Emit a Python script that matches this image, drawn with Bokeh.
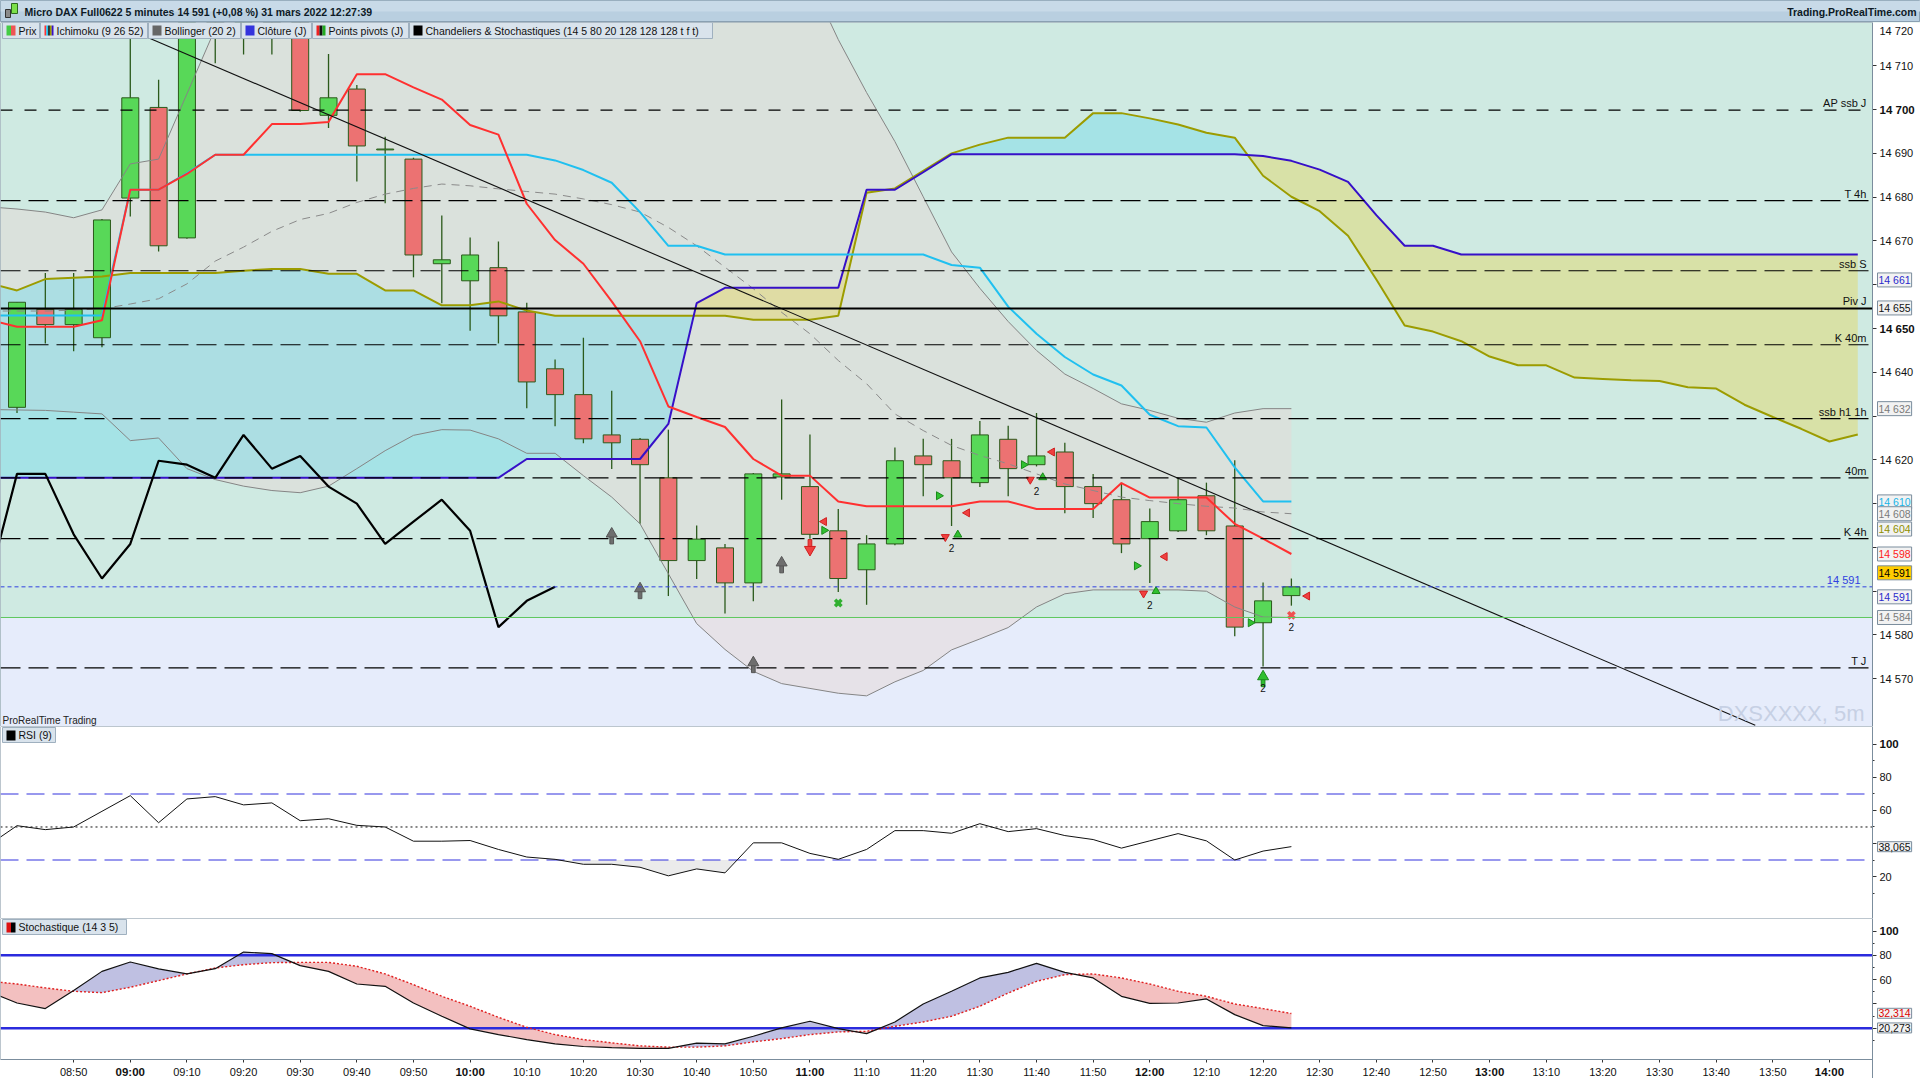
import numpy as np
from bokeh.plotting import figure
from bokeh.models import Range1d, FixedTicker, Label, BoxAnnotation, ColumnDataSource, LinearAxis
from bokeh.layouts import column
from bokeh.embed import file_html
from bokeh.resources import INLINE
from bokeh.core.properties import value

FONT = "Liberation Sans"

# ---------------- texts ----------------
TITLE = "Micro DAX Full0622 5 minutes 14 591 (+0,08 %) 31 mars 2022 12:27:39"
SITE = "Trading.ProRealTime.com"
LEGEND_ITEMS = ["Prix", "Ichimoku (9 26 52)", "Bollinger (20 2)", "Clôture (J)",
                "Points pivots (J)", "Chandeliers & Stochastiques (14 5 80 20 128 128 128 t f t)"]
RSI_TITLE = "RSI (9)"
STO_TITLE = "Stochastique (14 3 5)"
WATERMARK = "DXSXXXX, 5m"
BRAND = "ProRealTime Trading"

# ---------------- candles (5 min) ----------------
TIMES = ["08:40", "08:45", "08:50", "08:55", "09:00", "09:05", "09:10", "09:15", "09:20", "09:25",
         "09:30", "09:35", "09:40", "09:45", "09:50", "09:55", "10:00", "10:05", "10:10", "10:15",
         "10:20", "10:25", "10:30", "10:35", "10:40", "10:45", "10:50", "10:55", "11:00", "11:05",
         "11:10", "11:15", "11:20", "11:25", "11:30", "11:35", "11:40", "11:45", "11:50", "11:55",
         "12:00", "12:05", "12:10", "12:15", "12:20", "12:25"]
OPEN = [14632.0, 14654.4, 14650.9, 14647.9, 14679.8, 14700.5, 14670.7, 14728.0, 14724.0, 14730.0,
        14727.0, 14698.7, 14704.7, 14690.8, 14688.7, 14664.8, 14660.9, 14663.9, 14653.8, 14640.8,
        14634.9, 14625.7, 14624.7, 14615.9, 14597.0, 14599.9, 14591.9, 14616.1, 14613.9, 14603.8,
        14594.9, 14600.8, 14620.9, 14619.8, 14614.8, 14624.7, 14618.9, 14621.8, 14613.9, 14610.9,
        14602.0, 14603.8, 14611.8, 14604.9, 14582.8, 14589.0]
HIGH = [14656.0, 14662.7, 14662.7, 14675.0, 14725.0, 14706.8, 14732.0, 14736.0, 14738.0, 14735.0,
        14730.0, 14712.7, 14705.6, 14693.8, 14689.0, 14675.8, 14670.8, 14669.9, 14655.9, 14642.9,
        14647.9, 14635.8, 14625.0, 14626.9, 14605.0, 14600.8, 14617.0, 14633.8, 14625.8, 14608.8,
        14602.8, 14622.8, 14624.8, 14624.8, 14628.9, 14627.8, 14630.7, 14623.9, 14616.8, 14614.8,
        14608.9, 14615.9, 14614.8, 14619.9, 14592.0, 14592.9]
LOW = [14630.7, 14646.6, 14644.8, 14645.7, 14675.6, 14667.6, 14670.5, 14710.6, 14712.6, 14712.6,
       14699.5, 14695.8, 14683.6, 14678.6, 14661.7, 14655.8, 14649.5, 14646.6, 14631.8, 14627.7,
       14623.8, 14617.9, 14605.4, 14588.9, 14592.8, 14584.9, 14587.7, 14610.9, 14602.0, 14589.8,
       14586.9, 14600.5, 14611.7, 14604.9, 14613.8, 14611.7, 14618.5, 14607.8, 14606.7, 14598.7,
       14591.9, 14603.5, 14602.8, 14579.7, 14572.8, 14586.7]
CLOSE = [14656.0, 14650.9, 14654.4, 14674.8, 14702.7, 14668.9, 14728.0, 14725.0, 14730.0, 14726.0,
         14699.8, 14702.7, 14691.7, 14691.0, 14666.8, 14665.7, 14666.8, 14652.9, 14637.8, 14634.9,
         14624.8, 14623.9, 14618.9, 14597.0, 14601.9, 14591.9, 14616.8, 14616.8, 14603.0, 14592.9,
         14600.8, 14619.8, 14618.9, 14615.9, 14625.7, 14618.0, 14620.9, 14613.9, 14610.0, 14600.8,
         14605.9, 14610.9, 14603.8, 14581.8, 14587.8, 14591.0]

# indicators start one bar before the first visible candle
IND_START = -1
TENKAN = [14652.0, 14650.4, 14650.4, 14650.4, 14651.9, 14681.7, 14681.7, 14685.3, 14689.7, 14689.7,
          14696.7, 14696.7, 14697.2, 14708.1, 14708.1, 14705.1, 14702.3, 14696.5, 14694.3, 14678.5,
          14670.2, 14664.8, 14656.2, 14647.1, 14632.2, 14629.8, 14627.5, 14620.2, 14616.4, 14616.4,
          14610.5, 14609.4, 14609.4, 14609.4, 14609.4, 14610.5, 14610.5, 14608.8, 14608.8, 14608.8,
          14614.7, 14611.4, 14611.4, 14611.4, 14605.4, 14602.0, 14598.5]
KIJUN = [14653.0, 14653.0, 14653.0, 14653.0, 14653.0, 14681.7, 14681.7, 14685.5, 14689.7, 14689.7,
         14689.7, 14689.7, 14689.7, 14689.7, 14689.7, 14689.7, 14689.7, 14689.7, 14689.7, 14689.7,
         14688.4, 14686.2, 14683.3, 14676.6, 14668.9, 14668.9, 14666.9, 14666.9, 14666.9, 14666.9,
         14666.9, 14666.9, 14666.9, 14666.9, 14664.5, 14663.9, 14655.0, 14648.8, 14643.5, 14639.5,
         14637.0, 14630.3, 14627.7, 14627.4, 14618.3, 14610.5, 14610.5]
SENKOU_A = [14660.4, 14658.7, 14661.3, 14661.6, 14661.9, 14662.7, 14662.7, 14662.7, 14662.7, 14663.2,
            14663.6, 14663.6, 14662.5, 14662.5, 14658.7, 14658.7, 14655.3, 14655.3, 14656.2, 14654.1,
            14652.9, 14652.9, 14652.9, 14652.9, 14652.9, 14652.9, 14652.9, 14652.0, 14652.0, 14652.0,
            14652.9, 14681.0, 14682.0, 14686.0, 14690.0, 14692.0, 14693.6, 14693.6, 14693.6, 14699.2,
            14699.2, 14698.0, 14696.6, 14694.7, 14693.6, 14684.9, 14680.1, 14676.8, 14671.2, 14661.2,
            14650.7, 14649.3, 14647.1, 14643.6, 14641.6, 14641.6, 14638.8, 14638.5, 14638.2, 14638.0,
            14636.6, 14636.3, 14632.6, 14629.8, 14627.1, 14624.2, 14625.8]
SENKOU_B = [14615.9, 14615.9, 14615.9, 14615.9, 14615.9, 14615.9, 14615.9, 14615.9, 14615.9, 14615.9,
            14615.9, 14615.9, 14615.9, 14615.9, 14615.9, 14615.9, 14615.9, 14615.9, 14615.9, 14620.2,
            14620.2, 14620.2, 14620.2, 14620.2, 14628.2, 14655.8, 14659.3, 14659.3, 14659.3, 14659.3,
            14659.3, 14681.7, 14681.7, 14685.7, 14689.8, 14689.8, 14689.8, 14689.8, 14689.8, 14689.8,
            14689.8, 14689.8, 14689.8, 14689.8, 14689.8, 14689.4, 14688.3, 14686.3, 14683.5, 14675.9,
            14668.9, 14668.9, 14666.9, 14666.9, 14666.9, 14666.9, 14666.9, 14666.9, 14666.9, 14666.9,
            14666.9, 14666.9, 14666.9, 14666.9, 14666.9, 14666.9, 14666.9]
CHIKOU_SHIFT = 26
BB_UPPER = [14677.8, 14677.3, 14676.6, 14675.3, 14677.1, 14687.6, 14688.7, 14703.6, 14718.5, 14723.2,
            14731.4, 14737.3, 14738.6, 14739.6, 14739.3, 14738.4, 14739.1, 14738.4, 14739.0, 14741.1,
            14739.9, 14742.8, 14745.1, 14747.8, 14752.2, 14755.2, 14751.3, 14746.5, 14738.5, 14729.8,
            14716.0, 14703.9, 14692.7, 14680.1, 14667.5, 14659.2, 14651.6, 14645.0, 14639.6, 14636.3,
            14632.8, 14631.3, 14629.5, 14628.6, 14630.7, 14631.7, 14631.7]
BB_MID = [14654.0, 14654.0, 14654.0, 14654.2, 14654.5, 14655.6, 14656.8, 14660.2, 14665.4, 14668.6,
          14672.2, 14674.9, 14676.3, 14678.8, 14680.7, 14682.0, 14683.0, 14682.6, 14681.9, 14681.3,
          14680.7, 14679.6, 14678.3, 14676.6, 14673.1, 14668.9, 14664.0, 14659.1, 14653.7, 14648.8,
          14642.7, 14637.4, 14630.5, 14626.7, 14623.3, 14621.0, 14619.1, 14616.8, 14614.5, 14613.0,
          14611.5, 14610.7, 14610.0, 14609.4, 14609.0, 14608.1, 14607.7]
BB_LOWER = [14631.5, 14631.4, 14631.3, 14630.9, 14630.5, 14624.4, 14625.0, 14618.0, 14615.5, 14614.0,
            14613.0, 14612.5, 14614.0, 14618.0, 14622.1, 14625.6, 14626.9, 14626.8, 14624.8, 14621.5,
            14621.5, 14616.4, 14611.5, 14605.4, 14594.0, 14582.6, 14576.7, 14571.7, 14568.9, 14567.8,
            14566.7, 14566.1, 14569.3, 14571.9, 14576.6, 14579.1, 14581.7, 14586.4, 14589.4, 14590.3,
            14590.3, 14590.3, 14590.3, 14590.0, 14586.4, 14584.1, 14584.0]

RSI = [39.0, 50.8, 48.4, 50.0, 59.5, 69.0, 52.6, 67.0, 68.4, 63.4,
       64.6, 53.8, 55.0, 51.0, 50.0, 41.4, 41.4, 41.8, 36.4, 31.8,
       30.4, 27.4, 27.4, 25.6, 20.4, 24.6, 22.2, 40.4, 40.4, 34.0,
       30.4, 36.4, 47.8, 47.8, 46.2, 52.0, 47.2, 49.0, 44.8, 42.4,
       37.2, 41.6, 46.0, 41.6, 30.0, 35.4, 38.1]
STOCH_K = [50.3, 40.8, 36.2, 51.0, 66.8, 74.5, 68.8, 64.7, 69.0, 82.7,
           81.4, 71.5, 66.8, 56.4, 54.5, 40.8, 29.9, 19.5, 14.8, 10.7,
           7.1, 5.0, 4.0, 3.5, 3.5, 7.7, 7.1, 13.4, 20.3, 25.8,
           19.7, 15.6, 25.2, 40.0, 50.4, 61.4, 66.0, 73.4, 66.0, 61.4,
           46.3, 40.5, 40.8, 44.1, 31.2, 22.2, 20.3]
STOCH_D = [58.8, 56.4, 53.2, 50.4, 49.3, 53.7, 59.2, 64.7, 69.6, 72.3,
           74.0, 74.2, 74.2, 71.0, 64.7, 55.9, 46.3, 38.1, 29.0, 20.8,
           14.8, 10.7, 8.0, 5.5, 4.5, 4.5, 5.5, 8.8, 11.5, 14.8,
           17.0, 17.5, 21.6, 25.2, 29.9, 38.1, 49.0, 58.6, 64.1, 64.7,
           61.4, 56.4, 50.4, 46.3, 40.0, 36.2, 32.1]

# ---------------- levels ----------------
LEVEL_NAMES = ["AP ssb J", "T 4h", "ssb S", "Piv J", "K 40m", "ssb h1 1h", "40m", "K 4h", "T J"]
LEVEL_VALUES = [14699.9, 14679.2, 14663.2, 14654.6, 14646.3, 14629.4, 14615.9, 14602.0, 14572.5]
LAST_PRICE = 14591.0
LAST_PRICE_TEXT = "14 591"
ZONE_LEVEL = 14584.0
TREND_X = [4.39, 61.38]
TREND_Y = [14717.1, 14559.4]
RSI_LEVELS = [70, 30]
RSI_MID = 50
STO_LEVELS = [80, 20]

PRICE_TICKS = [14570, 14580, 14590, 14600, 14610, 14620, 14630, 14640, 14650, 14660, 14670, 14680, 14690, 14700, 14710]
PRICE_TICK_LABELS = ["14 570", "14 580", "", "", "", "14 620", "", "14 640", "", "", "14 670", "14 680", "14 690", "", "14 710"]
PRICE_BOLD_VALUES = [14700, 14650]
PRICE_BOLD_LABELS = ["14 700", "14 650"]
TOP_PRICE_LABEL = "14 720"

BOX_TEXT = ["14 661", "14 655", "14 632", "14 610", "14 608", "14 604", "14 598", "14 591", "14 591", "14 584"]
BOX_VALUE = [14661.1, 14654.7, 14631.7, 14610.4, 14607.7, 14604.2, 14598.5, 14591.0, 14591.0, 14584.0]
BOX_COLOR = ["#2a2acc", "#111111", "#7a7a7a", "#18b4e8", "#7a7a7a", "#8f8f00", "#ff2020", "#000000", "#2a2acc", "#7a7a7a"]
BOX_BG = ["#f2f2f2", "#f2f2f2", "#f2f2f2", "#f2f2f2", "#f2f2f2", "#f2f2f2", "#f2f2f2", "#ffcc00", "#f2f2f2", "#f2f2f2"]
BOX_SHIFT = [0, 0, 0, 0, 0, 0, 0, 14, -10, 0]

RSI_LAST = "38,065"
RSI_LAST_VALUE = 38.065
STO_D_LAST = "32,314"
STO_D_VALUE = 32.314
STO_K_LAST = "20,273"
STO_K_VALUE = 20.273

TICK_LABELS = ["08:50", "09:00", "09:10", "09:20", "09:30", "09:40", "09:50", "10:00", "10:10", "10:20",
               "10:30", "10:40", "10:50", "11:00", "11:10", "11:20", "11:30", "11:40", "11:50", "12:00",
               "12:10", "12:20", "12:30", "12:40", "12:50", "13:00", "13:10", "13:20", "13:30", "13:40",
               "13:50", "14:00"]

# signals of the "Chandeliers & Stochastiques" indicator
SIG_GRAY_UP_X = [21, 22, 26, 27]
SIG_GRAY_UP_Y = [14603.1, 14590.6, 14573.7, 14596.5]
SIG_RED_DOWN_X = [28]
SIG_RED_DOWN_Y = [14599.5]
SIG_PAIR_X = [33, 36, 40]
SIG_PAIR_Y = [14602.4, 14615.5, 14589.5]
SIG_GREEN_UP_X = [44]
SIG_GREEN_UP_Y = [14570.5]
SIG_GREEN_X_X = [29]
SIG_GREEN_X_Y = [14587.3]
SIG_RED_X_X = [45]
SIG_RED_X_Y = [14584.5]
SIG_COUNT_X = [33, 36, 40, 44, 45]
SIG_COUNT_Y = [14599.9, 14612.9, 14586.9, 14568.0, 14581.8]
SIG_COUNT_TEXT = ["2", "2", "2", "2", "2"]
TRI_RIGHT_X = [28.5, 32.55, 35.55, 39.54, 43.56]
TRI_RIGHT_Y = [14603.9, 14611.8, 14618.9, 14595.8, 14582.8]
TRI_LEFT_X = [28.5, 33.55, 36.55, 40.53, 45.56]
TRI_LEFT_Y = [14605.9, 14607.9, 14621.8, 14597.9, 14588.9]

# ---------------- layout / style ----------------
DATA_W = 1872          # width of the data area
TOTAL_W = 1920         # data area + price-axis strip
HDR_H = 22
MAIN_H = 704
RSI_H = 192
STO_H = 141
AX_H = 19              # time-axis strip under the stochastic pane
X0 = -0.583
AXIS_X = 65.52         # x where the price axis sits (right edge of data area)
X_END = X0 + TOTAL_W * (AXIS_X - X0) / DATA_W
MAIN_RANGE = (14559.1, 14719.9)
RSI_RANGE = (-5.45, 110.9)
STO_RANGE = (-5.7, 110.3)
MINT = "#cfeae2"
LAVENDER = "#e6ecfb"
EDGE = "#7b8d9d"
GREEN = "#58d858"
RED = "#ec7272"
WICK = "#2b5a1b"


def crossing_split(x, a, b):
    xs, aa, bb = [x[0]], [a[0]], [b[0]]
    for i in range(1, len(x)):
        d0 = a[i - 1] - b[i - 1]
        d1 = a[i] - b[i]
        if d0 * d1 < 0:
            t = d0 / (d0 - d1)
            xm = x[i - 1] + t * (x[i] - x[i - 1])
            ym = a[i - 1] + t * (a[i] - a[i - 1])
            xs.append(xm); aa.append(ym); bb.append(ym)
        xs.append(x[i]); aa.append(a[i]); bb.append(b[i])
    return np.array(xs), np.array(aa), np.array(bb)


def add_label(fig, x, y, text, xu="screen", yu="screen", size="10.5px", color="#111111",
              align="left", baseline="middle", style="normal", **kw):
    fig.add_layout(Label(x=x, y=y, x_units=xu, y_units=yu, text=text, text_font=FONT,
                         text_font_size=size, text_color=color, text_align=align,
                         text_baseline=baseline, text_font_style=style, **kw))


def add_box(fig, l, r, t, b, fill, line=None, units="screen", level="annotation", alpha=1.0):
    fig.add_layout(BoxAnnotation(left=l, right=r, top=t, bottom=b,
                                 left_units=units, right_units=units, top_units=units, bottom_units=units,
                                 fill_color=fill, fill_alpha=alpha, line_color=line, line_width=1,
                                 line_alpha=1.0, level=level))


def value_box(fig, y, text, color, bg="#f2f2f2", shift=0):
    fig.add_layout(Label(x=DATA_W + 5, y=y, x_units="screen", y_units="data", y_offset=shift, text=text,
                         text_font=FONT, text_font_size="10.5px", text_color=color,
                         text_baseline="middle", background_fill_color=bg, background_fill_alpha=1.0,
                         border_line_color=EDGE, border_line_alpha=1.0, padding=1))


def icon(fig, left, top, colors, w=9, h=10):
    step = w / len(colors)
    for k, c in enumerate(colors):
        add_box(fig, left + k * step, left + (k + 1) * step, top, top - h, c)


def hline(fig, y, color, width=1.0, dash="solid"):
    fig.segment(x0=[X0], x1=[AXIS_X], y0=[y], y1=[y], line_color=color, line_width=width, line_dash=dash)


xr = Range1d(X0, X_END)


def pane(h, yr, bg="white", bottom_strip=0):
    f = figure(frame_width=TOTAL_W, frame_height=h, x_range=xr, y_range=yr, output_backend="svg",
               toolbar_location=None, x_axis_location=None, y_axis_location=None,
               min_border=0, background_fill_color=bg, border_fill_color="white",
               outline_line_color=None)
    f.grid.visible = False
    ax = LinearAxis(fixed_location=AXIS_X)
    ax.axis_line_color = EDGE
    ax.major_tick_line_color = "#333333"
    ax.minor_tick_line_color = "#333333"
    ax.major_tick_out = 4
    ax.major_tick_in = 0
    ax.minor_tick_out = 2
    ax.minor_tick_in = 0
    ax.major_label_standoff = 3
    ax.major_label_text_font = FONT
    ax.major_label_text_font_size = "11px"
    ax.major_label_text_color = "#111111"
    f.add_layout(ax, "right")
    return f, ax


def finish_pane(f, h, bottom_strip=0):
    # white strip holding the price axis, white strip under the data area, frame border
    add_box(f, DATA_W, TOTAL_W, None, None, "white", level="underlay")
    if bottom_strip:
        add_box(f, None, None, bottom_strip, 0, "white", level="underlay")
    add_box(f, 0, DATA_W, h, bottom_strip, None, line=EDGE, alpha=0.0)


# ======================= header =======================
hdr = figure(frame_width=TOTAL_W, frame_height=HDR_H, x_range=Range1d(0, TOTAL_W), y_range=Range1d(0, HDR_H),
             output_backend="svg", toolbar_location=None, x_axis_location=None, y_axis_location=None,
             min_border=0, background_fill_color="#b9cfe0", border_fill_color="white",
             outline_line_color="#8aa0b2")
hdr.grid.visible = False
add_box(hdr, 0, TOTAL_W, HDR_H, HDR_H / 2, "#c8dae8", units="data", level="underlay")
add_box(hdr, 5, 10, 13, 5, "#8a8a8a", line="#333333", units="data")
add_box(hdr, 11, 17, 19, 9, "#7be04a", line="#2d6a1e", units="data")
add_label(hdr, 24, HDR_H / 2, TITLE, xu="data", yu="data", size="10.5px", style="bold", color="#0d1a26")
add_label(hdr, TOTAL_W - 4, HDR_H / 2, SITE, xu="data", yu="data", size="10.5px", style="bold",
          color="#0d1a26", align="right")

# ======================= main pane =======================
p, ya = pane(MAIN_H, Range1d(*MAIN_RANGE), bg=MINT)
ya.ticker = FixedTicker(ticks=PRICE_TICKS, minor_ticks=[])
ya.major_label_overrides = {t: s for t, s in zip(PRICE_TICKS, PRICE_TICK_LABELS)}
p.add_layout(BoxAnnotation(top=ZONE_LEVEL, fill_color=LAVENDER, fill_alpha=1.0, line_alpha=0, level="underlay"))
finish_pane(p, MAIN_H)

ix = np.arange(IND_START, IND_START + len(BB_MID))
# Bollinger band area
p.varea(x=ix, y1=BB_LOWER, y2=BB_UPPER, fill_color="#e6d7d5", fill_alpha=0.5)
# Ichimoku cloud
cx = np.arange(IND_START, IND_START + len(SENKOU_A))
sx, sa, sb = crossing_split(cx, SENKOU_A, SENKOU_B)
smax = np.maximum(sa, sb)
p.varea(x=sx, y1=sb, y2=smax, fill_color="#66d9ee", fill_alpha=0.4)
p.varea(x=sx, y1=sa, y2=smax, fill_color="#e6d450", fill_alpha=0.4)

# candles
n = len(TIMES)
bx = np.arange(n)
csrc = ColumnDataSource(dict(
    x=bx, h=HIGH, l=LOW,
    top=np.maximum(OPEN, CLOSE), bottom=np.minimum(OPEN, CLOSE),
    color=[GREEN if c >= o else RED for o, c in zip(OPEN, CLOSE)]))
p.segment(x0="x", y0="h", x1="x", y1="l", source=csrc, line_color=WICK, line_width=1.3)
p.vbar(x="x", top="top", bottom="bottom", width=0.6, fill_color="color", line_color=WICK,
       line_width=1, source=csrc)

# indicator lines
p.line(ix, BB_UPPER, line_color="#858585", line_width=1)
p.line(ix, BB_LOWER, line_color="#858585", line_width=1)
p.line(ix, BB_MID, line_color="#8a8a8a", line_width=1, line_dash="8 6")
p.line(cx, SENKOU_A, line_color="#9c9c00", line_width=2)
p.line(cx, SENKOU_B, line_color="#3610c8", line_width=2)
p.line(ix, KIJUN, line_color="#20c0f0", line_width=2)
p.line(ix, TENKAN, line_color="#ff3030", line_width=2)
chik_src = np.arange(CHIKOU_SHIFT + IND_START, n)
p.line(chik_src - CHIKOU_SHIFT, [CLOSE[i] for i in chik_src], line_color="black", line_width=2.2)
p.line(TREND_X, TREND_Y, line_color="#111111", line_width=1.1)

# signals
p.rect(SIG_GRAY_UP_X, [y - 1.4 for y in SIG_GRAY_UP_Y], width=0.13, height=1.8,
       fill_color="#6e6e6e", line_color="#555555")
p.scatter(SIG_GRAY_UP_X, SIG_GRAY_UP_Y, marker="triangle", size=11, fill_color="#6e6e6e", line_color="#555555")
p.rect(SIG_RED_DOWN_X, [y + 1.4 for y in SIG_RED_DOWN_Y], width=0.13, height=1.8,
       fill_color="#f04040", line_color="#d02020")
p.scatter(SIG_RED_DOWN_X, SIG_RED_DOWN_Y, marker="inverted_triangle", size=11,
          fill_color="#f04040", line_color="#d02020")
p.scatter([x - 0.22 for x in SIG_PAIR_X], SIG_PAIR_Y, marker="inverted_triangle", size=8,
          fill_color="#f04040", line_color="#d02020")
p.scatter([x + 0.22 for x in SIG_PAIR_X], [y + 0.5 for y in SIG_PAIR_Y], marker="triangle", size=8,
          fill_color="#30c030", line_color="#1a8a1a")
p.rect(SIG_GREEN_UP_X, [y - 1.4 for y in SIG_GREEN_UP_Y], width=0.13, height=1.8,
       fill_color="#30c030", line_color="#1a8a1a")
p.scatter(SIG_GREEN_UP_X, SIG_GREEN_UP_Y, marker="triangle", size=11, fill_color="#30c030", line_color="#1a8a1a")
p.scatter(SIG_GREEN_X_X, SIG_GREEN_X_Y, marker="x", size=9, line_color="#30b030", line_width=3.5)
p.scatter(SIG_RED_X_X, SIG_RED_X_Y, marker="x", size=9, line_color="#f05050", line_width=3.5)
p.scatter(TRI_RIGHT_X, TRI_RIGHT_Y, marker="triangle", angle=-np.pi / 2, size=8,
          fill_color="#30c030", line_color="#1a8a1a")
p.scatter(TRI_LEFT_X, TRI_LEFT_Y, marker="triangle", angle=np.pi / 2, size=8,
          fill_color="#f04040", line_color="#d02020")
p.text(SIG_COUNT_X, SIG_COUNT_Y, text=SIG_COUNT_TEXT, text_font=value(FONT), text_font_size="10px",
       text_align="center", text_baseline="middle", text_color="#111111")

# horizontal levels
for name, lv in zip(LEVEL_NAMES, LEVEL_VALUES):
    if name == "Piv J":
        hline(p, lv, "black", 2.0)
    else:
        hline(p, lv, "black", 1.2, "12 12" if name == "AP ssb J" else "20 8")
    add_label(p, DATA_W - 6, lv, name, yu="data", align="right", baseline="bottom", y_offset=1, size="11px")
hline(p, LAST_PRICE, "#3040e0", 1.0, "4 3")
add_label(p, DATA_W - 12, LAST_PRICE, LAST_PRICE_TEXT, yu="data", align="right", baseline="bottom", y_offset=1,
          size="11px", color="#3040e0")
hline(p, ZONE_LEVEL, "#5fc85f", 1.0)

add_label(p, DATA_W - 8, 13, WATERMARK, align="right", baseline="alphabetic", size="22px", color="#c6d0e4")
add_label(p, 2, 1, BRAND, baseline="bottom", size="10px", color="#222222")

# price-axis extras
add_label(p, DATA_W + 7, MAIN_H - 8, TOP_PRICE_LABEL, size="11px")
for v, s_ in zip(PRICE_BOLD_VALUES, PRICE_BOLD_LABELS):
    add_label(p, DATA_W + 7, v, s_, yu="data", size="11.5px", style="bold")
for t, v, c, bg, sh in zip(BOX_TEXT, BOX_VALUE, BOX_COLOR, BOX_BG, BOX_SHIFT):
    value_box(p, v, t, c, bg, sh)

# legend row
LEG_POS = [(2, 39), (40, 147), (148, 240), (241, 311), (312, 408), (409, 712)]
LEG_ICONS = [["#44cc44", "#ee5555"], ["#ff3333", "#22c4f0", "#222222", "#9a9a00", "#3a10c8"],
             ["#666666"], ["#3333dd"], ["#ee2222", "#111111", "#22aa22"], ["#000000"]]
for (l, r_), txt, ic in zip(LEG_POS, LEGEND_ITEMS, LEG_ICONS):
    add_box(p, l, r_, MAIN_H, MAIN_H - 16, "#d9e3ec", line="#9fb0bf")
    icon(p, l + 4, MAIN_H - 3, ic)
    add_label(p, l + 16, MAIN_H - 8, txt, size="10.5px")

# ======================= RSI pane =======================
r, ra = pane(RSI_H, Range1d(*RSI_RANGE))
ra.ticker = FixedTicker(ticks=[20, 40, 60, 80, 100], minor_ticks=[10, 30, 50, 70, 90])
ra.major_label_overrides = {20: "20", 40: "", 60: "60", 80: "80", 100: ""}
finish_pane(r, RSI_H)
rx = np.arange(IND_START, IND_START + len(RSI))
qx, qa, qb = crossing_split(rx, RSI, [30.0] * len(RSI))
r.varea(x=qx, y1=np.minimum(qa, 30.0), y2=np.full(len(qx), 30.0), fill_color="#ebebeb", fill_alpha=1.0)
for lv in RSI_LEVELS:
    hline(r, lv, "#3333dd", 1.2, "18 8")
hline(r, RSI_MID, "#111111", 1.0, "2 3")
r.line(rx, RSI, line_color="#111111", line_width=1)
add_label(r, DATA_W + 7, 100, "100", yu="data", size="11.5px", style="bold")
value_box(r, RSI_LAST_VALUE, RSI_LAST, "#111111")
add_box(r, 2, 55, RSI_H - 1, RSI_H - 16, "#d9e3ec", line="#9fb0bf")
icon(r, 6, RSI_H - 4, ["#000000"])
add_label(r, 18, RSI_H - 8.5, RSI_TITLE, size="10.5px")

# ======================= Stochastic pane =======================
sto_scale = STO_H / (STO_RANGE[1] - STO_RANGE[0])
s, sy = pane(STO_H + AX_H, Range1d(STO_RANGE[0] - AX_H / sto_scale, STO_RANGE[1]))
sy.ticker = FixedTicker(ticks=[20, 40, 60, 80, 100], minor_ticks=[10, 30, 50, 70, 90])
sy.major_label_overrides = {20: "", 40: "", 60: "60", 80: "80", 100: ""}
finish_pane(s, STO_H + AX_H, bottom_strip=AX_H)
kx = np.arange(IND_START, IND_START + len(STOCH_K))
tx, tk, td = crossing_split(kx, STOCH_K, STOCH_D)
tmax = np.maximum(tk, td)
s.varea(x=tx, y1=td, y2=tmax, fill_color="#bfc0e2", fill_alpha=1.0)
s.varea(x=tx, y1=tk, y2=tmax, fill_color="#f3c0c0", fill_alpha=1.0)
for lv in STO_LEVELS:
    hline(s, lv, "#2b2bdd", 2.5)
s.line(kx, STOCH_D, line_color="#e02020", line_width=1.4, line_dash="2 2")
s.line(kx, STOCH_K, line_color="#111111", line_width=1.2)
add_label(s, DATA_W + 7, 100, "100", yu="data", size="11.5px", style="bold")
value_box(s, STO_D_VALUE, STO_D_LAST, "#dd0000")
value_box(s, STO_K_VALUE, STO_K_LAST, "#111111")
add_box(s, 2, 126, STO_H + AX_H - 1, STO_H + AX_H - 16, "#d9e3ec", line="#9fb0bf")
icon(s, 6, STO_H + AX_H - 4, ["#dd1111", "#000000"])
add_label(s, 18, STO_H + AX_H - 8.5, STO_TITLE, size="10.5px")

start_min = int(TIMES[0][:2]) * 60 + int(TIMES[0][3:])
tick_pos = [(int(t[:2]) * 60 + int(t[3:]) - start_min) / 5 for t in TICK_LABELS]
xa = LinearAxis(fixed_location=STO_RANGE[0], bounds=(X0, AXIS_X))
xa.ticker = FixedTicker(ticks=tick_pos, minor_ticks=[])
xa.major_label_overrides = {tp: ("" if t.endswith(":00") else t) for tp, t in zip(tick_pos, TICK_LABELS)}
xa.axis_line_color = EDGE
xa.major_tick_line_color = "#333333"
xa.major_tick_out = 3
xa.major_tick_in = 0
xa.major_label_standoff = 3
xa.major_label_text_font = FONT
xa.major_label_text_font_size = "11px"
xa.major_label_text_color = "#111111"
s.add_layout(xa, "below")
for tp, t in zip(tick_pos, TICK_LABELS):
    if t.endswith(":00"):
        add_label(s, tp, STO_RANGE[0], t, xu="data", yu="data", y_offset=-6, align="center",
                  baseline="top", size="11.5px", style="bold")

layout = column(hdr, p, r, s, spacing=0)
open("out.html", "w").write(file_html(layout, INLINE))
